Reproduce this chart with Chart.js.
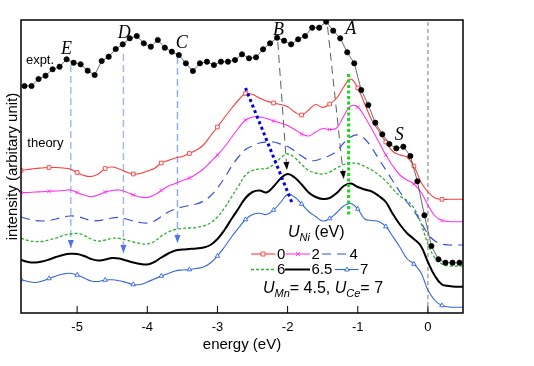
<!DOCTYPE html>
<html>
<head>
<meta charset="utf-8">
<script src="https://cdn.jsdelivr.net/npm/chart.js@4.4.0/dist/chart.umd.min.js"></script>
<style>
  html, body { margin: 0; padding: 0; background: #fff; }
</style>
</head>
<body>
<canvas id="chartEspectro" width="534" height="366"></canvas>
<script>
// Datos (intensidad en unidades arbitrarias)
const ticksEnergia = [-5, -4, -3, -2, -1, 0];

const energiaTeo = [-5.8, -5.7, -5.6, -5.5, -5.4, -5.3, -5.2, -5.1, -5.0, -4.9,
    -4.8, -4.7, -4.6, -4.5, -4.4, -4.3, -4.2, -4.1, -4.0, -3.9,
    -3.8, -3.7, -3.6, -3.5, -3.4, -3.3, -3.2, -3.1, -3.0, -2.9,
    -2.8, -2.7, -2.6, -2.5, -2.4, -2.3, -2.2, -2.1, -2.0, -1.9,
    -1.8, -1.7, -1.6, -1.5, -1.4, -1.3, -1.2, -1.1, -1.0, -0.9,
    -0.8, -0.7, -0.6, -0.5, -0.4, -0.3, -0.2, -0.1, 0.0, 0.1,
    0.2, 0.3, 0.4, 0.5];

const energiaExp = [-5.75, -5.65, -5.55, -5.45, -5.35, -5.25, -5.15, -5.05, -4.95, -4.85,
    -4.75, -4.65, -4.55, -4.45, -4.35, -4.25, -4.15, -4.05, -3.95, -3.85,
    -3.75, -3.65, -3.55, -3.45, -3.35, -3.25, -3.15, -3.05, -2.95, -2.85,
    -2.75, -2.65, -2.55, -2.45, -2.35, -2.25, -2.15, -2.05, -1.95, -1.85,
    -1.75, -1.65, -1.55, -1.45, -1.35, -1.25, -1.15, -1.05, -0.95, -0.85,
    -0.75, -0.65, -0.55, -0.45, -0.35, -0.25, -0.15, -0.05, 0.05, 0.15,
    0.25, 0.35, 0.45];

const expt = [227, 227, 234, 237.3, 243.7, 246.3, 253.7, 250.3, 248.7, 242.3,
    238, 252, 256.3, 264, 268.7, 274.7, 277, 269.7, 266.3, 273,
    265.3, 261.3, 258, 249.7, 242, 249.7, 251.3, 248, 251.3, 251.3,
    253, 258.7, 254.7, 255.7, 263.7, 269.7, 275.3, 272.3, 268.7, 273.7,
    277, 285.3, 285.3, 291.3, 282.3, 274.7, 260.7, 249.7, 223, 208,
    190.3, 178.7, 169, 164.7, 166.3, 157, 131.7, 97.7, 67, 53.7,
    50.3, 50.3, 50.3];

const uNi0 = [142.5, 143.5, 144.5, 145, 145.5, 145.5, 145, 144, 140.5, 137.5,
    136.5, 139, 144.5, 146, 144, 141, 139, 139.5, 142, 144.5,
    150, 152.5, 155, 156.5, 159.5, 163, 168, 177, 186, 195.5,
    204.5, 213, 219.5, 218.5, 215, 212, 210, 208.5, 206.3, 201,
    198, 203, 208.5, 205.5, 209, 215, 226, 234, 225, 209,
    193, 182, 171, 161.5, 158, 156, 147, 131, 121, 115,
    113.7, 113.7, 113.7, 113.7];

const uNi2 = [120.3, 120.5, 121, 121.3, 121.7, 122, 122.5, 123, 120.5, 118,
    116.3, 118, 121, 122.5, 123, 121, 118, 116, 115.5, 118,
    122.5, 127, 129.5, 132.5, 135, 139, 144, 151, 158, 166,
    175.5, 185, 193, 196, 196, 194.5, 192, 190, 187.5, 183.5,
    179, 177, 181, 184.5, 183.5, 185, 197, 207, 206, 196,
    184, 171, 158, 147, 138, 133, 129, 121, 108, 97,
    92.5, 91.5, 91.3, 91.3];

const uNi4 = [96, 94, 92.5, 92, 92.5, 94, 96, 97, 96.5, 94.5,
    92.5, 92.3, 93.5, 95, 95.5, 94, 92, 90.5, 90, 92,
    96.5, 101, 104, 106, 107.5, 109, 112, 117, 125, 135,
    146.5, 156, 163.5, 167, 170, 171, 171, 169, 166.5, 162,
    157, 153, 152.5, 155, 157.5, 162, 170, 176, 178, 174,
    165, 154, 143, 132, 121, 111, 102, 91, 79, 72,
    69, 68, 68, 68];

const uNi6 = [74.7, 72.5, 71.5, 71.5, 73, 75, 77.5, 79, 79.5, 77.5,
    74, 72, 73, 74.7, 74.7, 73, 71, 69.5, 69, 71.5,
    77, 81, 83.5, 84.5, 85, 85.5, 87, 90, 96, 105,
    116, 127, 138, 142.5, 144, 144.5, 148.5, 155, 159, 155.5,
    148.5, 142.5, 140, 139, 141, 145, 148.5, 149.7, 149.5, 146.5,
    143, 138, 132, 124, 117, 112.5, 105, 90, 69, 55,
    49, 47, 47, 47];

const uNi65 = [53, 51, 50.5, 51.5, 53.5, 56, 58, 59.2, 59, 57,
    54, 52.5, 53.5, 55, 54.5, 52.5, 50.5, 49, 48.5, 51,
    55.5, 59.5, 62.5, 63.5, 64, 64.5, 65.5, 68, 74, 83,
    94, 104.5, 115, 121, 122.5, 120.5, 126.5, 134.5, 139, 135.5,
    128.5, 120.5, 116, 114, 115, 120, 127, 129.5, 126, 123.5,
    121.5, 117, 111, 99, 88.5, 80, 74, 67, 51, 37,
    28.5, 27, 26.3, 26.3];

const uNi7 = [33.5, 31.5, 30.5, 32, 34.5, 37, 39, 39.7, 38, 35,
    32, 31.5, 33, 33.2, 32.2, 30.5, 28.5, 28.5, 31, 34,
    37, 39.5, 42, 43, 43.5, 44.5, 46, 50, 57, 66,
    76, 85, 93.5, 98.5, 99.7, 98.5, 103, 110.5, 118.5, 116,
    109, 101.5, 96.5, 92, 94.5, 100.5, 107, 109.5, 104, 94,
    92.5, 91.5, 86.5, 76.5, 66, 54.5, 49, 40.5, 23, 12.5,
    7.5, 6, 5.7, 5.7];

// Guias y flechas (energia, intensidad)
const lineaE = [[-5.09, 248], [-5.09, 65]];
const lineaD = [[-4.34, 259], [-4.34, 60]];
const lineaC = [[-3.57, 256], [-3.57, 70]];
const lineaB = [[-2.14, 271], [-2.01, 143]];
const lineaA = [[-1.43, 286], [-1.20, 134]];
const tendenciaB = [[-2.6, 225], [-1.93, 109]];
const tendenciaA = [[-1.13, 239], [-1.13, 98]];
const lineaCero = [[0, 0], [0, 293]];

const etiquetasPicos = [['E', -5.15, 264], ['D', -4.33, 280], ['C', -3.51, 270],
    ['B', -2.13, 283], ['A', -1.10, 284], ['S', -0.41, 178]];
const etiquetasTexto = [['expt.', -5.73, 253], ['theory', -5.71, 170]];

const fuente = '"Liberation Sans", Arial, sans-serif';
Chart.defaults.font.family = fuente;
Chart.defaults.color = '#000';

function puntos(xs, ys) {
    return xs.map((x, i) => ({ x: x, y: ys[i] }));
}
function par(p) {
    return p.map(v => ({ x: v[0], y: v[1] }));
}
const cadaCuatro = ctx => (ctx.dataIndex % 4 === 0 ? 2.6 : 0);

function guia(p, color, ancho, dash, flecha, orden) {
    return {
        data: par(p), borderColor: color, borderWidth: ancho, borderDash: dash,
        pointRadius: 0, tension: 0, flecha: flecha, order: orden
    };
}

const series = [
    { data: puntos(energiaExp, expt), borderColor: '#444', borderWidth: 0.8, tension: 0,
      pointRadius: 2.6, pointBackgroundColor: '#000', pointBorderColor: '#000', order: 0 },
    { data: puntos(energiaTeo, uNi0), borderColor: '#ff3b3b', borderWidth: 1.1, tension: 0.4,
      pointStyle: 'rect', pointRadius: cadaCuatro, pointBackgroundColor: '#fff',
      pointBorderColor: '#ff3b3b', pointBorderWidth: 0.9, order: 2 },
    { data: puntos(energiaTeo, uNi2), borderColor: '#ff33ee', borderWidth: 1.1, tension: 0.4,
      pointStyle: 'crossRot', pointRadius: cadaCuatro, pointBorderColor: '#ff33ee',
      pointBorderWidth: 0.9, order: 2 },
    { data: puntos(energiaTeo, uNi4), borderColor: '#3a4ee0', borderWidth: 1.2, tension: 0.4,
      borderDash: [9, 6], pointRadius: 0, order: 2 },
    { data: puntos(energiaTeo, uNi6), borderColor: '#2fb02f', borderWidth: 1.3, tension: 0.4,
      borderDash: [3, 2], pointRadius: 0, order: 2 },
    { data: puntos(energiaTeo, uNi65), borderColor: '#000', borderWidth: 2, tension: 0.4,
      pointRadius: 0, order: 2 },
    { data: puntos(energiaTeo, uNi7), borderColor: '#3366dd', borderWidth: 1.1, tension: 0.4,
      pointStyle: 'triangle', pointRadius: cadaCuatro, pointBackgroundColor: '#fff',
      pointBorderColor: '#3366dd', pointBorderWidth: 0.9, order: 2 },
    guia(lineaE, '#9db5f0', 1.4, [7, 4], '#4a73e8', 3),
    guia(lineaD, '#9db5f0', 1.4, [7, 4], '#4a73e8', 3),
    guia(lineaC, '#8fa9ee', 1.4, [7, 4], '#4a73e8', 3),
    guia(lineaB, '#333', 0.8, [8, 5], '#000', 3),
    guia(lineaA, '#333', 0.8, [8, 5], '#000', 3),
    guia(tendenciaB, '#0000dd', 3, [3, 3], null, 1),
    guia(tendenciaA, '#11dd11', 3, [3, 2.5], null, 1),
    guia(lineaCero, '#555', 0.8, [4, 3], null, 4)
];

// Marco del grafico con ticks hacia dentro
const marcoPlugin = {
    id: 'marco',
    afterDraw(chart) {
        const { ctx, chartArea: a } = chart;
        const x = chart.scales.x;
        ctx.save();
        ctx.setLineDash([]);
        ctx.strokeStyle = '#000';
        ctx.lineWidth = 1.5;
        ctx.strokeRect(a.left, a.top, a.right - a.left, a.bottom - a.top);
        ctx.lineWidth = 1;
        x.ticks.forEach(t => {
            const px = x.getPixelForValue(t.value);
            ctx.beginPath();
            ctx.moveTo(px, a.bottom);
            ctx.lineTo(px, a.bottom - 7);
            ctx.stroke();
        });
        ctx.restore();
    }
};

// Puntas de flecha al final de las guias
const flechaPlugin = {
    id: 'flechas',
    afterDatasetsDraw(chart) {
        const ctx = chart.ctx;
        chart.data.datasets.forEach((ds, i) => {
            if (!ds.flecha) return;
            const pts = chart.getDatasetMeta(i).data;
            const a = pts[pts.length - 2], b = pts[pts.length - 1];
            const ang = Math.atan2(b.y - a.y, b.x - a.x);
            const L = 8, W = 3;
            const c = Math.cos(ang), s = Math.sin(ang);
            ctx.save();
            ctx.fillStyle = ds.flecha;
            ctx.beginPath();
            ctx.moveTo(b.x, b.y);
            ctx.lineTo(b.x - L * c + W * s, b.y - L * s - W * c);
            ctx.lineTo(b.x - L * c - W * s, b.y - L * s + W * c);
            ctx.closePath();
            ctx.fill();
            ctx.restore();
        });
    }
};

function textoSub(ctx, x, y, partes) {
    let cx = x;
    partes.forEach(p => {
        ctx.font = p[1];
        ctx.fillText(p[0], cx, y + (p[2] || 0));
        cx += ctx.measureText(p[0]).width;
    });
}

// Etiquetas y leyenda
const textosPlugin = {
    id: 'textos',
    afterDraw(chart) {
        const { ctx, scales: { x, y } } = chart;
        ctx.save();
        ctx.fillStyle = '#000';
        ctx.textBaseline = 'middle';
        ctx.textAlign = 'center';
        ctx.font = 'italic 18px "Liberation Serif", "Times New Roman", serif';
        etiquetasPicos.forEach(e => ctx.fillText(e[0], x.getPixelForValue(e[1]), y.getPixelForValue(e[2])));
        ctx.textAlign = 'left';
        ctx.font = '13px ' + fuente;
        etiquetasTexto.forEach(e => ctx.fillText(e[0], x.getPixelForValue(e[1]), y.getPixelForValue(e[2])));

        ctx.textBaseline = 'alphabetic';
        const it = 'italic 16px ' + fuente, sub = 'italic 11px ' + fuente, rg = '16px ' + fuente;
        textoSub(ctx, 288, 237, [['U', it], ['Ni', sub, 4], [' (eV)', rg]]);
        textoSub(ctx, 263, 293, [['U', it], ['Mn', sub, 4], ['= 4.5, ', rg], ['U', it], ['Ce', sub, 4], ['= 7', rg]]);

        const filas = [
            [1, 251, 275.5, 263, '0', 277], [2, 285.5, 310, 298, '2', 311.5], [3, 322, 348.5, null, '4', 349.5],
            [4, 251, 275.5, null, '6', 277], [5, 285, 310, null, '6.5', 311.5], [6, 335, 358.5, 347, '7', 360]
        ];
        ctx.font = '15px ' + fuente;
        filas.forEach((f, k) => {
            const ds = chart.data.datasets[f[0]];
            const yy = k < 3 ? 254 : 269.5;
            ctx.save();
            ctx.strokeStyle = ds.borderColor;
            ctx.lineWidth = ds.borderWidth;
            ctx.setLineDash(ds.borderDash || []);
            ctx.beginPath();
            ctx.moveTo(f[1], yy);
            ctx.lineTo(f[2], yy);
            ctx.stroke();
            ctx.setLineDash([]);
            if (f[3] !== null) {
                ctx.lineWidth = 0.9;
                ctx.beginPath();
                if (ds.pointStyle === 'rect') {
                    ctx.fillStyle = '#fff';
                    ctx.rect(f[3] - 2, yy - 2, 4, 4);
                    ctx.fill();
                } else if (ds.pointStyle === 'crossRot') {
                    ctx.moveTo(f[3] - 2, yy - 2); ctx.lineTo(f[3] + 2, yy + 2);
                    ctx.moveTo(f[3] + 2, yy - 2); ctx.lineTo(f[3] - 2, yy + 2);
                } else {
                    ctx.fillStyle = '#fff';
                    ctx.moveTo(f[3], yy - 2.5); ctx.lineTo(f[3] + 2.3, yy + 1.5); ctx.lineTo(f[3] - 2.3, yy + 1.5);
                    ctx.closePath();
                    ctx.fill();
                }
                ctx.stroke();
            }
            ctx.restore();
            ctx.fillStyle = '#000';
            ctx.textBaseline = 'middle';
            ctx.fillText(f[4], f[5], yy + 0.5);
        });
        ctx.restore();
    }
};

new Chart(document.getElementById('chartEspectro'), {
    type: 'line',
    data: { datasets: series },
    options: {
        responsive: false,
        animation: false,
        layout: { padding: { top: 20, right: 71, bottom: 0, left: 0 } },
        plugins: { legend: { display: false }, tooltip: { enabled: false } },
        scales: {
            x: {
                type: 'linear', min: -5.8, max: 0.5,
                afterBuildTicks: s => { s.ticks = ticksEnergia.map(v => ({ value: v })); },
                afterFit: s => { s.height = 53; },
                grid: { display: false, drawTicks: false },
                border: { display: false },
                ticks: { color: '#000', font: { size: 13 }, padding: 7 },
                title: { display: true, text: 'energy (eV)', color: '#000', font: { size: 15 },
                         padding: { top: 0, bottom: 12 } }
            },
            y: {
                type: 'linear', min: 0, max: 293,
                afterFit: s => { s.width = 21; },
                grid: { display: false, drawTicks: false },
                border: { display: false },
                ticks: { display: false },
                title: { display: true, text: 'intensity (arbitary unit)', color: '#000', font: { size: 15 },
                         padding: { top: 4, bottom: 0 } }
            }
        }
    },
    plugins: [marcoPlugin, flechaPlugin, textosPlugin]
});
</script>
</body>
</html>
